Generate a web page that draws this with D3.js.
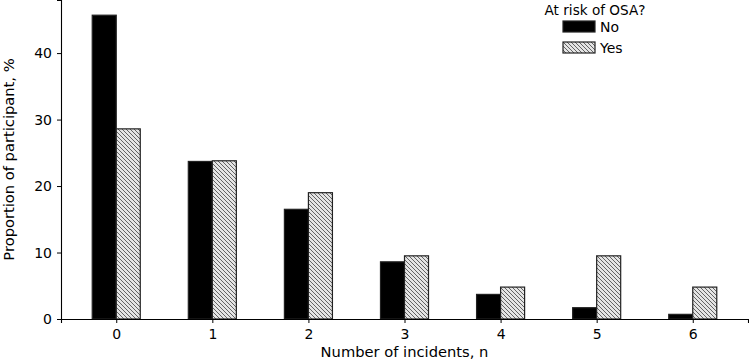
<!DOCTYPE html>
<html>
<head>
<meta charset="utf-8">
<script src="https://cdn.jsdelivr.net/npm/d3@7"></script>
<style>
  body { margin: 0; background: #fff; }
  text { font-family: "DejaVu Sans", sans-serif; fill: #000; }
</style>
</head>
<body>
<div id="chart"></div>
<script>
// datos
const categorias = [0, 1, 2, 3, 4, 5, 6]
const series = ["No", "Yes"]
const valoresNo = [45.7, 23.7, 16.5, 8.6, 3.7, 1.7, 0.7]
const valoresYes = [28.6, 23.8, 19.0, 9.5, 4.8, 9.5, 4.8]
const ticksY = [0, 10, 20, 30, 40]

const anchoTotal = 749
const altoTotal = 361
const margins = { top: 0, right: 1, bottom: 42, left: 61 }
const ancho = anchoTotal - margins.left - margins.right
const alto = altoTotal - margins.top - margins.bottom

const svg = d3.select("#chart").append("svg")
    .attr("width", anchoTotal)
    .attr("height", altoTotal)

// patron rayado
const defs = svg.append("defs")
const pat = defs.append("pattern")
    .attr("id", "rayado")
    .attr("patternUnits", "userSpaceOnUse")
    .attr("width", 4)
    .attr("height", 4)
pat.append("rect").attr("width", 4).attr("height", 4).attr("fill", "#e4e4e4")
pat.append("path")
    .attr("d", "M-1,-1 L5,5 M-1,3 L1,5 M3,-1 L5,1")
    .attr("stroke", "#555")
    .attr("stroke-width", 0.9)

const g = svg.append("g")
    .attr("transform", `translate(${margins.left},${margins.top})`)

// escalas (como matplotlib: barras de ancho 0.25, margen 5%)
const anchoBarra = 0.25
const x = d3.scaleLinear().domain([-0.575, 6.575]).range([0, ancho])
const yMax = d3.max(valoresNo.concat(valoresYes)) * 1.05
const y = d3.scaleLinear().domain([0, yMax]).range([alto, 0])

const datos = []
categorias.forEach((c, i) => {
    datos.push({ cat: c, serie: "No", valor: valoresNo[i], offset: -anchoBarra })
    datos.push({ cat: c, serie: "Yes", valor: valoresYes[i], offset: 0 })
})

g.selectAll("rect.barra")
    .data(datos)
    .enter()
    .append("rect")
    .attr("class", "barra")
    .attr("x", d => x(d.cat + d.offset))
    .attr("y", d => y(d.valor))
    .attr("width", d => x(d.cat + d.offset + anchoBarra) - x(d.cat + d.offset))
    .attr("height", d => y(0) - y(d.valor))
    .attr("fill", d => d.serie === "No" ? "#000" : "url(#rayado)")
    .attr("stroke", "#222")
    .attr("stroke-width", 1.2)

// ejes
const xAxis = d3.axisBottom(x).tickValues(categorias).tickFormat(d3.format("d"))
    .tickSizeOuter(0).tickSize(4).tickPadding(6)
const yAxis = d3.axisLeft(y).tickValues(ticksY).tickSizeOuter(0).tickSize(4).tickPadding(5)

const xg = g.append("g").attr("transform", `translate(0,${alto})`).call(xAxis)
const yg = g.append("g").call(yAxis)
;[xg, yg].forEach(a => {
    a.selectAll("text").style("font-size", "14px").style("font-family", "DejaVu Sans")
    a.select(".domain").attr("stroke-width", 1.1)
    a.selectAll(".tick line").attr("stroke-width", 1)
})

// etiquetas
g.append("text")
    .attr("x", ancho / 2)
    .attr("y", alto + 38)
    .attr("text-anchor", "middle")
    .style("font-size", "14.7px")
    .text("Number of incidents, n")

g.append("text")
    .attr("transform", `translate(${-47},${alto / 2}) rotate(-90)`)
    .attr("text-anchor", "middle")
    .style("font-size", "14.7px")
    .text("Proportion of participant, %")

// leyenda
const leyenda = svg.append("g").attr("transform", "translate(540,0)")
leyenda.append("text")
    .attr("x", 55)
    .attr("y", 15)
    .attr("text-anchor", "middle")
    .style("font-size", "13.6px")
    .text("At risk of OSA?")

series.forEach((s, i) => {
    const fila = leyenda.append("g").attr("transform", `translate(23,${21 + i * 21})`)
    fila.append("rect")
        .attr("width", 32)
        .attr("height", 11)
        .attr("fill", s === "No" ? "#000" : "url(#rayado)")
        .attr("stroke", "#222")
        .attr("stroke-width", 1.2)
    fila.append("text")
        .attr("x", 37)
        .attr("y", 11)
        .style("font-size", "14px")
        .text(s)
})
</script>
</body>
</html>
